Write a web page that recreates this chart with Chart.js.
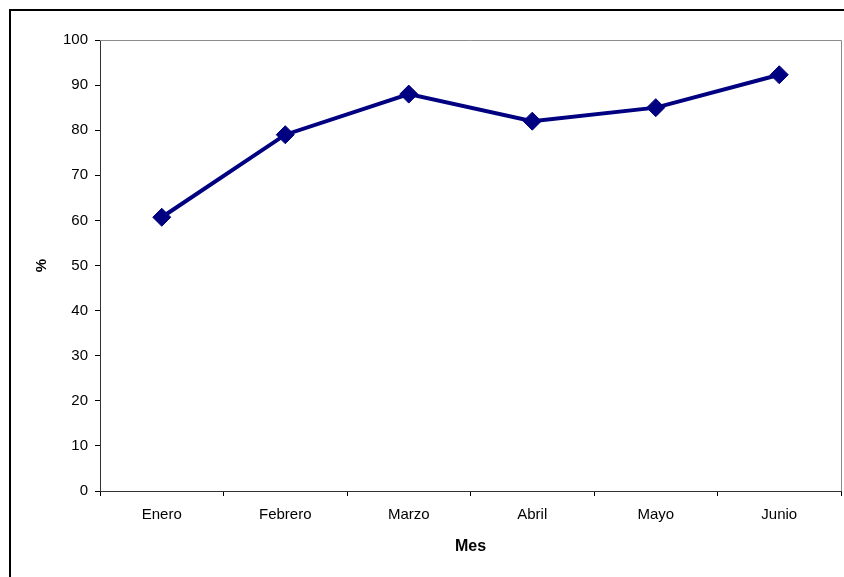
<!DOCTYPE html>
<html>
<head>
<meta charset="utf-8">
<script src="https://cdn.jsdelivr.net/npm/chart.js@4/dist/chart.umd.min.js"></script>
<style>
  html, body { margin: 0; padding: 0; background: #fff; }
  #wrap { width: 844px; height: 577px; position: relative; }
</style>
</head>
<body>
<div id="wrap"><canvas id="c" width="844" height="577"></canvas></div>
<script>
const categories = ["Enero", "Febrero", "Marzo", "Abril", "Mayo", "Junio"];
const values = [60.7, 79, 88, 82, 85, 92.3];
const yTicks = [0, 10, 20, 30, 40, 50, 60, 70, 80, 90, 100];
const xTitle = "Mes";
const yTitle = "%";

const FONT = "'Liberation Sans', Arial, sans-serif";

const framePlugin = {
  id: 'frame',
  beforeDraw(chart) {
    const ctx = chart.ctx;
    ctx.save();
    ctx.fillStyle = '#fff';
    ctx.fillRect(0, 0, chart.width, chart.height);
    ctx.strokeStyle = '#000';
    ctx.lineWidth = 2;
    ctx.beginPath();
    ctx.moveTo(10, chart.height + 2);
    ctx.lineTo(10, 10);
    ctx.lineTo(chart.width + 2, 10);
    ctx.stroke();
    ctx.restore();
  },
  beforeDatasetsDraw(chart) {
    const {ctx, chartArea: a} = chart;
    ctx.save();
    ctx.strokeStyle = '#8c8c8c';
    ctx.lineWidth = 1;
    ctx.beginPath();
    ctx.moveTo(a.left, a.top + 0.5);
    ctx.lineTo(a.right + 0.5, a.top + 0.5);
    ctx.lineTo(a.right + 0.5, a.bottom);
    ctx.stroke();
    ctx.restore();
  }
};

new Chart(document.getElementById('c'), {
  type: 'line',
  data: {
    labels: categories,
    datasets: [{
      data: values,
      borderColor: '#000080',
      backgroundColor: '#000080',
      borderWidth: 4,
      pointStyle: 'rectRot',
      pointRadius: 9,
      pointHoverRadius: 9,
      pointBorderWidth: 1,
      pointBorderColor: '#000080',
      pointBackgroundColor: '#000080',
      tension: 0,
      clip: false
    }]
  },
  options: {
    responsive: false,
    animation: false,
    devicePixelRatio: 1,
    layout: { autoPadding: false, padding: { left: 0, right: 3, top: 40, bottom: 0 } },
    plugins: { legend: { display: false }, tooltip: { enabled: false }, title: { display: false } },
    scales: {
      x: {
        type: 'category',
        offset: true,
        grid: { offset: true, drawOnChartArea: false, drawTicks: true, tickLength: 5, color: '#000', lineWidth: 1 },
        border: { display: true, color: '#333', width: 1 },
        ticks: { color: '#000', font: { family: FONT, size: 15 }, padding: 10, maxRotation: 0, autoSkip: false },
        title: { display: true, text: xTitle, color: '#000', font: { family: FONT, size: 16, weight: 'bold' }, padding: { top: 0, bottom: 21 } },
        afterFit(scale) { scale.height = 86; scale.paddingRight = 0; scale.paddingLeft = 0; }
      },
      y: {
        min: 0, max: 100,
        afterBuildTicks(scale) { scale.ticks = yTicks.map(v => ({ value: v })); },
        grid: { drawOnChartArea: false, drawTicks: true, tickLength: 5, color: '#000', lineWidth: 1 },
        border: { display: true, color: '#333', width: 1 },
        ticks: { color: '#000', font: { family: FONT, size: 15 }, padding: 7 },
        title: { display: true, text: yTitle, color: '#000', font: { family: FONT, size: 15, weight: 'bold' }, padding: { top: 33, bottom: 0 } },
        afterFit(scale) { scale.width = 100; scale.paddingTop = 0; scale.paddingBottom = 0; }
      }
    }
  },
  plugins: [framePlugin]
});
</script>
</body>
</html>
